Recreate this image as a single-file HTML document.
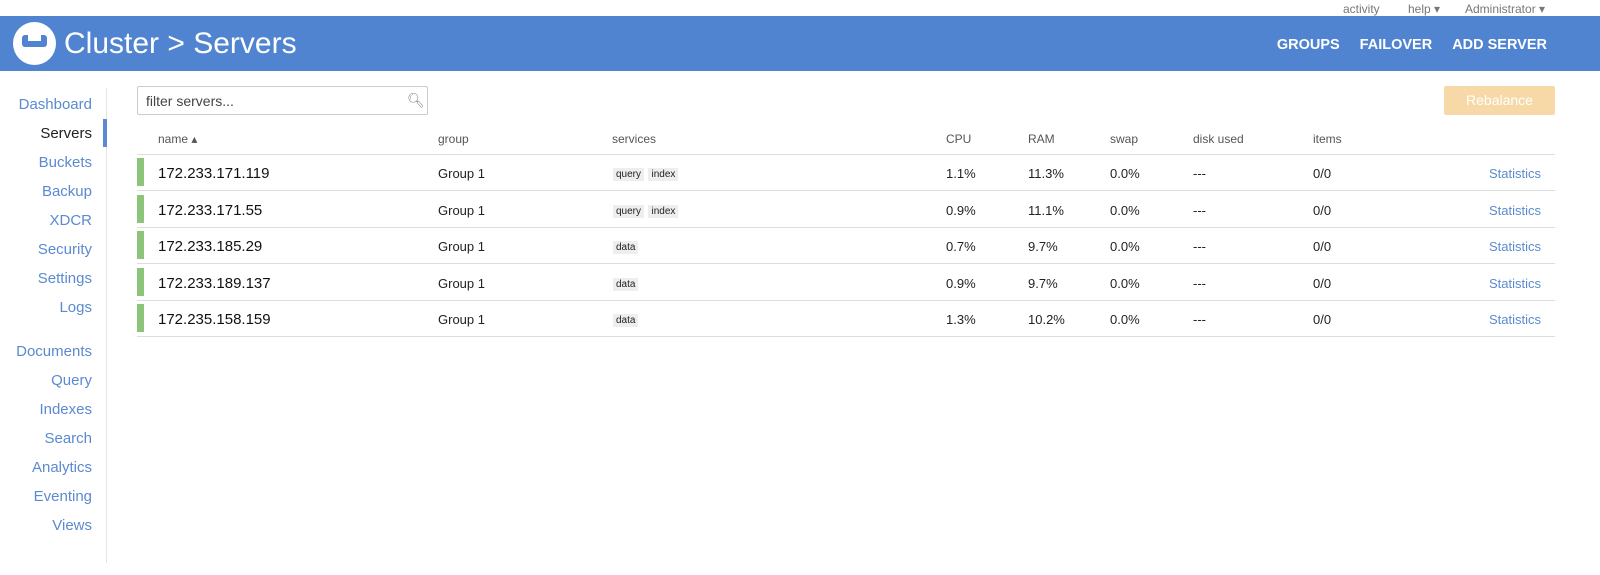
<!DOCTYPE html>
<html><head><style>
body{margin:0;width:1600px;height:575px;background:#fff;font-family:"Liberation Sans",sans-serif;position:relative;overflow:hidden}
.a{position:absolute;white-space:nowrap}
.top{top:2px;font-size:12px;color:#777}
.hdr{position:absolute;left:0;top:16px;width:1600px;height:55px;background:#5083d0}
.nav{right:1508px;font-size:15px;color:#5b8ad0;text-align:right}
.hl{position:absolute;left:137px;width:1418px;height:1px;background:#ddd}
.th{top:132px;font-size:12px;color:#555}
.bar{position:absolute;left:137px;width:7px;height:28px;background:#8cc47a}
.ip{left:158px;font-size:15px;color:#111}
.c{font-size:13px;color:#222}
.tag{font-size:10px;background:#eee;padding:1px 3px;color:#222}
.st{right:59px;font-size:13px;color:#5b8ad0}
.hbox{position:absolute;right:53px;top:21px;display:flex;gap:20px;font-size:14.5px;font-weight:bold;color:#fff;white-space:nowrap}
</style></head><body>
<div class="a top" style="left:1343px">activity</div>
<div class="a top" style="left:1408px">help ▾</div>
<div class="a top" style="left:1465px">Administrator ▾</div>
<div class="hdr">
 <div class="a" style="left:13px;top:6px;width:43px;height:43px;border-radius:50%;background:#fff"></div>
 <div class="a" style="left:22px;top:19px;width:25px;height:12px;background:#5083d0;border-radius:3px"></div>
 <div class="a" style="left:28px;top:19px;width:13px;height:6px;background:#fff"></div>
 <div class="a" style="left:64px;top:11px;font-size:30px;color:#fff">Cluster &gt; Servers</div>
 <div class="hbox"><span>GROUPS</span><span>FAILOVER</span><span>ADD SERVER</span></div>
</div>
<div class="a" style="left:106px;top:88px;width:1px;height:475px;background:#e5e5e5"></div>
<div class="a" style="left:103px;top:119px;width:4px;height:28px;background:#5b8ad0"></div>
<div class="a nav" style="top:96px">Dashboard</div>
<div class="a nav" style="top:125px;color:#222">Servers</div>
<div class="a nav" style="top:154px">Buckets</div>
<div class="a nav" style="top:183px">Backup</div>
<div class="a nav" style="top:212px">XDCR</div>
<div class="a nav" style="top:241px">Security</div>
<div class="a nav" style="top:270px">Settings</div>
<div class="a nav" style="top:299px">Logs</div>
<div class="a nav" style="top:343px">Documents</div>
<div class="a nav" style="top:372px">Query</div>
<div class="a nav" style="top:401px">Indexes</div>
<div class="a nav" style="top:430px">Search</div>
<div class="a nav" style="top:459px">Analytics</div>
<div class="a nav" style="top:488px">Eventing</div>
<div class="a nav" style="top:517px">Views</div>
<div class="a" style="left:137px;top:86px;width:289px;height:27px;border:1px solid #ccc;border-radius:2px"></div>
<div class="a" style="left:146px;top:93px;font-size:14px;color:#444">filter servers...</div>
<div class="a" style="left:407px;top:92px;font-size:14px;color:#888">&#x1F50D;&#xFE0E;</div>
<div class="a" style="left:1444px;top:86px;width:111px;height:29px;background:#f6d9a6;border-radius:2px;color:#fff;font-size:14px;text-align:center;line-height:29px">Rebalance</div>
<div class="a th" style="left:158px">name ▴</div>
<div class="a th" style="left:438px">group</div>
<div class="a th" style="left:612px">services</div>
<div class="a th" style="left:946px">CPU</div>
<div class="a th" style="left:1028px">RAM</div>
<div class="a th" style="left:1110px">swap</div>
<div class="a th" style="left:1193px">disk used</div>
<div class="a th" style="left:1313px">items</div>
<div class="hl" style="top:154px"></div>
<div class="hl" style="top:190px"></div>
<div class="hl" style="top:227px"></div>
<div class="hl" style="top:263px"></div>
<div class="hl" style="top:300px"></div>
<div class="hl" style="top:336px"></div>

<div class="bar" style="top:158px"></div>
<div class="a ip" style="top:165px">172.233.171.119</div>
<div class="a c" style="left:438px;top:166px">Group 1</div>
<div class="a" style="left:613px;top:164px"><span class="tag">query</span> <span class="tag">index</span></div>
<div class="a c" style="left:946px;top:166px">1.1%</div><div class="a c" style="left:1028px;top:166px">11.3%</div><div class="a c" style="left:1110px;top:166px">0.0%</div><div class="a c" style="left:1193px;top:166px">---</div><div class="a c" style="left:1313px;top:166px">0/0</div><div class="a st" style="top:166px">Statistics</div>

<div class="bar" style="top:195px"></div>
<div class="a ip" style="top:202px">172.233.171.55</div>
<div class="a c" style="left:438px;top:203px">Group 1</div>
<div class="a" style="left:613px;top:201px"><span class="tag">query</span> <span class="tag">index</span></div>
<div class="a c" style="left:946px;top:203px">0.9%</div><div class="a c" style="left:1028px;top:203px">11.1%</div><div class="a c" style="left:1110px;top:203px">0.0%</div><div class="a c" style="left:1193px;top:203px">---</div><div class="a c" style="left:1313px;top:203px">0/0</div><div class="a st" style="top:203px">Statistics</div>

<div class="bar" style="top:231px"></div>
<div class="a ip" style="top:238px">172.233.185.29</div>
<div class="a c" style="left:438px;top:239px">Group 1</div>
<div class="a" style="left:613px;top:237px"><span class="tag">data</span></div>
<div class="a c" style="left:946px;top:239px">0.7%</div><div class="a c" style="left:1028px;top:239px">9.7%</div><div class="a c" style="left:1110px;top:239px">0.0%</div><div class="a c" style="left:1193px;top:239px">---</div><div class="a c" style="left:1313px;top:239px">0/0</div><div class="a st" style="top:239px">Statistics</div>

<div class="bar" style="top:268px"></div>
<div class="a ip" style="top:275px">172.233.189.137</div>
<div class="a c" style="left:438px;top:276px">Group 1</div>
<div class="a" style="left:613px;top:274px"><span class="tag">data</span></div>
<div class="a c" style="left:946px;top:276px">0.9%</div><div class="a c" style="left:1028px;top:276px">9.7%</div><div class="a c" style="left:1110px;top:276px">0.0%</div><div class="a c" style="left:1193px;top:276px">---</div><div class="a c" style="left:1313px;top:276px">0/0</div><div class="a st" style="top:276px">Statistics</div>

<div class="bar" style="top:304px"></div>
<div class="a ip" style="top:311px">172.235.158.159</div>
<div class="a c" style="left:438px;top:312px">Group 1</div>
<div class="a" style="left:613px;top:310px"><span class="tag">data</span></div>
<div class="a c" style="left:946px;top:312px">1.3%</div><div class="a c" style="left:1028px;top:312px">10.2%</div><div class="a c" style="left:1110px;top:312px">0.0%</div><div class="a c" style="left:1193px;top:312px">---</div><div class="a c" style="left:1313px;top:312px">0/0</div><div class="a st" style="top:312px">Statistics</div>
</body></html>
